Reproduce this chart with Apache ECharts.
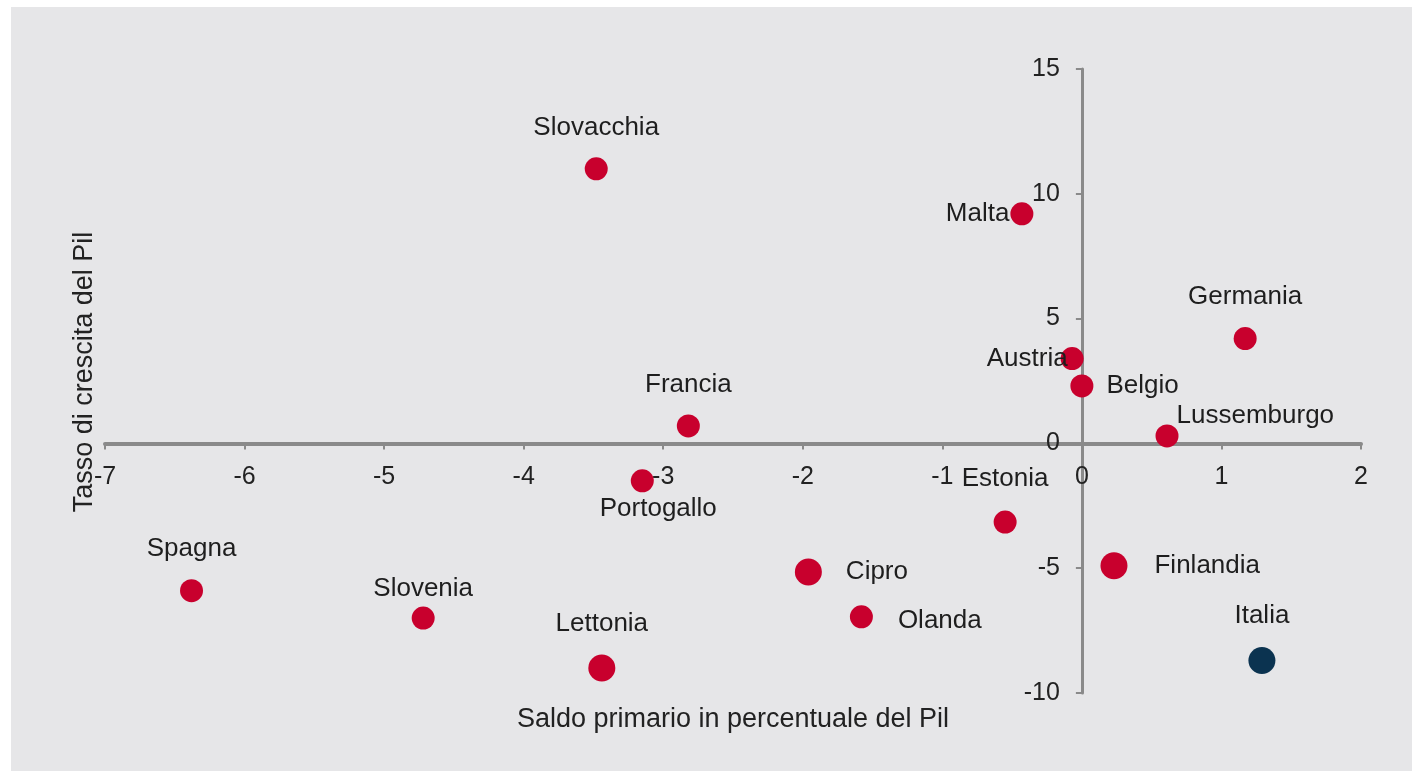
<!DOCTYPE html>
<html>
<head>
<meta charset="utf-8">
<script src="https://cdn.jsdelivr.net/npm/echarts@6/dist/echarts.min.js"></script>
<style>
    html, body { margin: 0; padding: 0; background: #ffffff; }
    #chart { position: absolute; left: 11px; top: 7px; width: 1401px; height: 764px; background: #e6e6e8; }
</style>
</head>
<body>
<div id="chart"></div>
<script>
// dati
var paesi = ['Slovacchia', 'Malta', 'Germania', 'Austria', 'Belgio', 'Lussemburgo', 'Francia', 'Portogallo',
    'Estonia', 'Spagna', 'Slovenia', 'Lettonia', 'Cipro', 'Olanda', 'Finlandia', 'Italia'];
var saldoPrimario = [-3.48, -0.43, 1.17, -0.07, 0.0, 0.61, -2.82, -3.15, -0.55, -6.38, -4.72, -3.44, -1.96, -1.58, 0.23, 1.29];
var crescitaPil = [11.0, 9.2, 4.2, 3.4, 2.3, 0.3, 0.7, -1.5, -3.15, -5.9, -7.0, -9.0, -5.15, -6.95, -4.9, -8.7];
var xTicks = [-7, -6, -5, -4, -3, -2, -1, 0, 1, 2];
var yTicks = [-10, -5, 0, 5, 10, 15];

// posizione delle etichette (stile)
var etichette = {
    'Slovacchia': { position: 'top', distance: 17 },
    'Malta': { position: 'left', distance: 1 },
    'Germania': { position: 'top', distance: 17 },
    'Austria': { position: 'left', distance: -7 },
    'Belgio': { position: 'right', distance: 13 },
    'Lussemburgo': { position: 'right', distance: 0, offset: [-2, -20] },
    'Francia': { position: 'top', distance: 17 },
    'Portogallo': { position: 'bottom', distance: 3, offset: [16, 0] },
    'Estonia': { position: 'top', distance: 19 },
    'Spagna': { position: 'top', distance: 17 },
    'Slovenia': { position: 'top', distance: 5 },
    'Lettonia': { position: 'top', distance: 18 },
    'Cipro': { position: 'right', distance: 24 },
    'Olanda': { position: 'right', distance: 25, offset: [0, 4] },
    'Finlandia': { position: 'right', distance: 27 },
    'Italia': { position: 'top', distance: 18 }
};
var grandi = ['Lettonia', 'Cipro', 'Finlandia', 'Italia'];

var font = 'Liberation Sans, Arial, sans-serif';
var griglia = { left: 94, right: 51, top: 62, bottom: 78 };
var dati = [];
for (var i = 0; i < paesi.length; i++) {
    var lab = etichette[paesi[i]];
    dati.push({
        name: paesi[i],
        value: [saldoPrimario[i], crescitaPil[i]],
        symbolSize: grandi.indexOf(paesi[i]) >= 0 ? 27 : 23,
        itemStyle: { color: paesi[i] == 'Italia' ? '#0b3350' : '#c8002d', opacity: 1 },
        label: {
            show: true,
            position: lab.position,
            distance: lab.distance,
            offset: lab.offset || [0, 0]
        }
    });
}

var myChart = echarts.init(document.getElementById('chart'));
myChart.setOption({
    animation: false,
    textStyle: { fontFamily: font },
    grid: griglia,
    xAxis: {
        type: 'value',
        min: xTicks[0],
        max: xTicks[xTicks.length - 1],
        interval: 1,
        splitLine: { show: false },
        axisLine: { onZero: false, lineStyle: { color: '#8a8a8a', width: 4 } },
        axisTick: { show: true, length: 6, lineStyle: { color: '#8a8a8a', width: 2 } },
        axisLabel: { color: '#222', fontSize: 25, margin: 21, fontFamily: font }
    },
    yAxis: {
        type: 'value',
        min: yTicks[0],
        max: yTicks[yTicks.length - 1],
        interval: 5,
        splitLine: { show: false },
        axisLine: { onZero: false, lineStyle: { color: '#8a8a8a', width: 3 } },
        axisTick: { show: true, length: 6, lineStyle: { color: '#8a8a8a', width: 2 } },
        axisLabel: { color: '#222', fontSize: 25, margin: 22, fontFamily: font }
    },
    graphic: [
        {
            type: 'text',
            x: 722,
            y: 713,
            style: { text: 'Saldo primario in percentuale del Pil', fill: '#222', font: '27px ' + font, align: 'center', verticalAlign: 'middle' }
        },
        {
            type: 'text',
            x: 74,
            y: 365,
            rotation: Math.PI / 2,
            style: { text: 'Tasso di crescita del Pil', fill: '#222', font: '27px ' + font, align: 'center', verticalAlign: 'middle' }
        }
    ],
    series: [{
        type: 'scatter',
        data: dati,
        itemStyle: { opacity: 1 },
        label: {
            formatter: '{b}',
            color: '#1e1e1e',
            fontSize: 26,
            fontFamily: font
        }
    }]
});

// sposta gli assi sull'origine (0,0)
var zero = myChart.convertToPixel({ gridIndex: 0 }, [0, 0]);
var h = myChart.getHeight();
myChart.setOption({
    xAxis: { offset: -(h - griglia.bottom - zero[1]) },
    yAxis: { offset: -(zero[0] - griglia.left) }
});
</script>
</body>
</html>
